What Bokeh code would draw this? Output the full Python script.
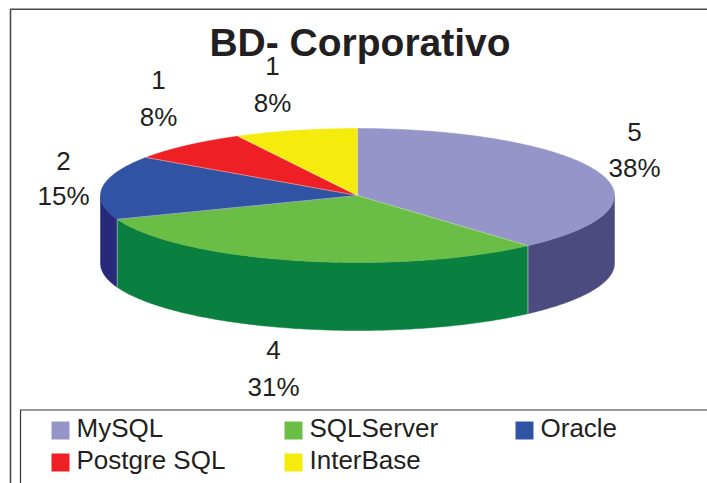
import numpy as np
from bokeh.plotting import figure
from bokeh.models import Range1d
from bokeh.core.properties import value
from bokeh.embed import file_html
from bokeh.resources import INLINE

title = "BD- Corporativo"
categories = ["MySQL", "SQLServer", "Oracle", "Postgre SQL", "InterBase"]
counts = [5, 4, 2, 1, 1]
top_colors = ["#9595C9", "#6ABD45", "#3053A4", "#EE1F25", "#F5EB0D"]
side_colors = ["#4B4B80", "#0A8040", "#27297A", "#9E1B1E", "#A8A000"]

# layout (reference pixel coordinates)
CX, CY, RX, RY, DEPTH = 357.0, 195.0, 257.0, 67.0, 68.0
FONT = value("Liberation Sans")
INK = "#231F20"
label_x = [634, 273, 63, 158, 272]
label_y_count = [131, 349, 160, 79, 65]
label_y_pct = [167, 386, 195, 116, 102]
legend_sq_x = [51, 284, 515, 51, 284]
legend_txt_x = [76, 309, 540, 76, 309]
legend_y = [421, 421, 421, 453, 453]

p = figure(width=707, height=483, output_backend="svg", toolbar_location=None,
           x_range=Range1d(0, 707), y_range=Range1d(483, 0),
           min_border=0, x_axis_type=None, y_axis_type=None,
           outline_line_color=None, background_fill_color="white", border_fill_color="white")
p.grid.visible = False


def arc(a0, a1, dy=0.0):
    t = np.radians(np.linspace(a0, a1, 160))
    return CX + RX * np.sin(t), CY + dy + RY * -np.cos(t)


total = sum(counts)
edges = np.concatenate([[0.0], np.cumsum(counts)]) / total * 360.0

# side walls: only the front half of the rim is visible (90..270 degrees clockwise from top)
for i in range(len(counts)):
    a0, a1 = max(edges[i], 90.0), min(edges[i + 1], 270.0)
    if a1 <= a0:
        continue
    xt, yt = arc(a0, a1)
    xb, yb = arc(a1, a0, DEPTH)
    p.patch(np.concatenate([xt, xb]), np.concatenate([yt, yb]),
            fill_color=side_colors[i], line_color=side_colors[i], line_width=0.5)

# top faces
for i in range(len(counts)):
    xt, yt = arc(edges[i], edges[i + 1])
    p.patch(np.concatenate([[CX], xt]), np.concatenate([[CY], yt]),
            fill_color=top_colors[i], line_color=top_colors[i], line_width=0.5)

# thin light seams between the slices
for e in edges[:-1]:
    xe, ye = arc(e, e)
    p.line([CX, xe[0]], [CY, ye[0]], line_color="#DDE6DD", line_width=0.7, line_alpha=0.7)
    if 90 < e < 270:
        p.line([xe[0], xe[0]], [ye[0], ye[0] + DEPTH], line_color="#BFE0CC", line_width=0.8, line_alpha=0.8)

# title and data labels
p.text([359.5], [42], text=[title], text_font=FONT, text_font_size="39px", text_font_style="bold",
       text_align="center", text_baseline="middle", text_color=INK)
p.text(label_x, label_y_count, text=[str(c) for c in counts], text_font=FONT, text_font_size="26px",
       text_align="center", text_baseline="middle", text_color=INK)
p.text(label_x, label_y_pct, text=[f"{round(100 * c / total)}%" for c in counts], text_font=FONT,
       text_font_size="26px", text_align="center", text_baseline="middle", text_color=INK)

# outer frame and legend box (both run off the picture on the right and bottom)
p.line([10, 10, 707], [483, 8.7, 8.7], line_color="#4A4A4A", line_width=1.6)
p.line([20, 20, 707], [483, 409.5, 409.5], line_color="#333333", line_width=1.2)

# legend
sq = np.array(legend_sq_x, dtype=float)
yy = np.array(legend_y, dtype=float)
p.quad(left=sq, right=sq + 18, top=yy, bottom=yy + 18, fill_color=top_colors, line_color=None)
p.text(legend_txt_x, yy + 6, text=categories, text_font=FONT, text_font_size="26px",
       text_align="left", text_baseline="middle", text_color=INK)

open("out.html", "w").write(file_html(p, INLINE))
